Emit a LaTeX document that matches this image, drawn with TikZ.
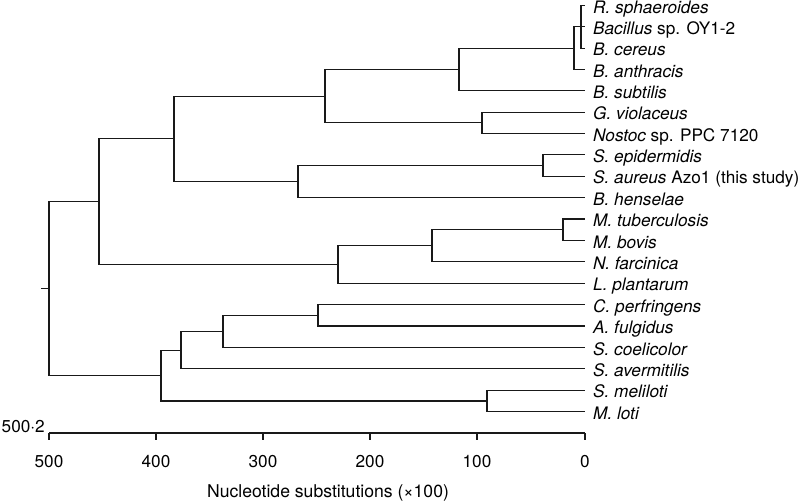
\documentclass[tikz,border=0pt]{standalone}
\usepackage{fontspec}
\setmainfont{TeX Gyre Heros}
\begin{document}
\begin{tikzpicture}[x=1pt,y=-1pt,
  br/.style={draw=black!90, line width=1.1pt},
  lab/.style={anchor=base west, inner sep=0pt, font=\fontsize{17.2}{20}\selectfont},
  num/.style={anchor=base, inner sep=0pt, font=\fontsize{17.2}{20}\selectfont}]
\useasboundingbox (0,0) rectangle (800,501);

% leaf ends
\coordinate (l0) at (585,5.5);
\coordinate (l1) at (585,26.8);
\coordinate (l2) at (585,48.1);
\coordinate (l3) at (585,69.5);
\coordinate (l4) at (585,90.8);
\coordinate (l5) at (585,112.2);
\coordinate (l6) at (585,133.5);
\coordinate (l7) at (585,154.9);
\coordinate (l8) at (585,176.3);
\coordinate (l9) at (585,197.6);
\coordinate (l10) at (585,219.0);
\coordinate (l11) at (585,240.4);
\coordinate (l12) at (585,261.8);
\coordinate (l13) at (585,283.2);
\coordinate (l14) at (585,304.6);
\coordinate (l15) at (585,326.0);
\coordinate (l16) at (585,347.4);
\coordinate (l17) at (585,368.8);
\coordinate (l18) at (585,390.3);
\coordinate (l19) at (585,411.8);

% labels
\node[lab] (t0) at (593,13.2) {\itshape R. sphaeroides};
\node[lab] (t1) at (593,34.4) {\itshape Bacillus\upshape\ sp. OY1-2};
\node[lab] (t2) at (593,55.7) {\itshape B. cereus};
\node[lab] (t3) at (593,77.1) {\itshape B. anthracis};
\node[lab] (t4) at (593,98.4) {\itshape B. subtilis};
\node[lab] (t5) at (593,119.8) {\itshape G. violaceus};
\node[lab] (t6) at (593,141.1) {\itshape Nostoc\upshape\ sp. PPC 7120};
\node[lab] (t7) at (593,162.5) {\itshape S. epidermidis};
\node[lab] (t8) at (593,183.9) {\itshape S. aureus\upshape\ Azo1 (this study)};
\node[lab] (t9) at (593,205.2) {\itshape B. henselae};
\node[lab] (t10) at (593,226.6) {\itshape M. tuberculosis};
\node[lab] (t11) at (593,248.0) {\itshape M. bovis};
\node[lab] (t12) at (593,269.4) {\itshape N. farcinica};
\node[lab] (t13) at (593,290.8) {\itshape L. plantarum};
\node[lab] (t14) at (593,312.2) {\itshape C. perfringens};
\node[lab] (t15) at (593,333.6) {\itshape A. fulgidus};
\node[lab] (t16) at (593,355.0) {\itshape S. coelicolor};
\node[lab] (t17) at (593,376.4) {\itshape S. avermitilis};
\node[lab] (t18) at (593,397.9) {\itshape S. meliloti};
\node[lab] (t19) at (593,419.4) {\itshape M. loti};

% internal nodes
\coordinate (a1) at (581,26.8);
\coordinate (b) at (574,48.1);
\coordinate (c) at (459,69.5);
\coordinate (d) at (482,122.8);
\coordinate (e) at (325,96.1);
\coordinate (f) at (543,165.6);
\coordinate (g) at (298,181.6);
\coordinate (h) at (174,138.9);
\coordinate (i) at (563,229.7);
\coordinate (j) at (432,245.8);
\coordinate (k) at (338,264.5);
\coordinate (m) at (99,201.7);
\coordinate (n) at (318,315.3);
\coordinate (o) at (223,331.3);
\coordinate (p) at (181,350.1);
\coordinate (q) at (487,401.0);
\coordinate (r) at (161,375.5);
\coordinate (root) at (49,288.6);
\coordinate (stub) at (41,288.6);

% branches
\draw[br] (a1) |- (l0);
\draw[br] (a1) |- (l2);
\draw[br] (b) |- (l1);
\draw[br] (b) |- (l3);
\draw[br] (c) |- (b);
\draw[br] (c) |- (l4);
\draw[br] (d) |- (l5);
\draw[br] (d) |- (l6);
\draw[br] (e) |- (c);
\draw[br] (e) |- (d);
\draw[br] (f) |- (l7);
\draw[br] (f) |- (l8);
\draw[br] (g) |- (f);
\draw[br] (g) |- (l9);
\draw[br] (h) |- (e);
\draw[br] (h) |- (g);
\draw[br] (i) |- (l10);
\draw[br] (i) |- (l11);
\draw[br] (j) |- (i);
\draw[br] (j) |- (l12);
\draw[br] (k) |- (j);
\draw[br] (k) |- (l13);
\draw[br] (m) |- (h);
\draw[br] (m) |- (k);
\draw[br] (n) |- (l14);
\draw[br] (n) |- (l15);
\draw[br] (o) |- (n);
\draw[br] (o) |- (l16);
\draw[br] (p) |- (o);
\draw[br] (p) |- (l17);
\draw[br] (q) |- (l18);
\draw[br] (q) |- (l19);
\draw[br] (r) |- (p);
\draw[br] (r) |- (q);
\draw[br] (root) |- (m);
\draw[br] (root) |- (r);
\draw[br] (stub) -- (root);

% axis
\coordinate (x500) at (49,433);
\coordinate (x400) at (156,433);
\coordinate (x300) at (263,433);
\coordinate (x200) at (370,433);
\coordinate (x100) at (477,433);
\coordinate (x0) at (585,433);
\draw[br] (x500) -- (x0);
\foreach \t in {x500,x400,x300,x200,x100,x0} \draw[br] (\t) -- ++(0,7);
\node[num] (n500) at (49,467) {500};
\node[num] (n400) at (156,467) {400};
\node[num] (n300) at (263,467) {300};
\node[num] (n200) at (370,467) {200};
\node[num] (n100) at (477,467) {100};
\node[num] (n0) at (585,467) {0};
\node[num, anchor=base east] (scale) at (45,432) {500$\cdot$2};
\node[num, font=\fontsize{17.6}{20}\selectfont] (title) at (328,497) {Nucleotide substitutions (×100)};
\end{tikzpicture}
\end{document}
